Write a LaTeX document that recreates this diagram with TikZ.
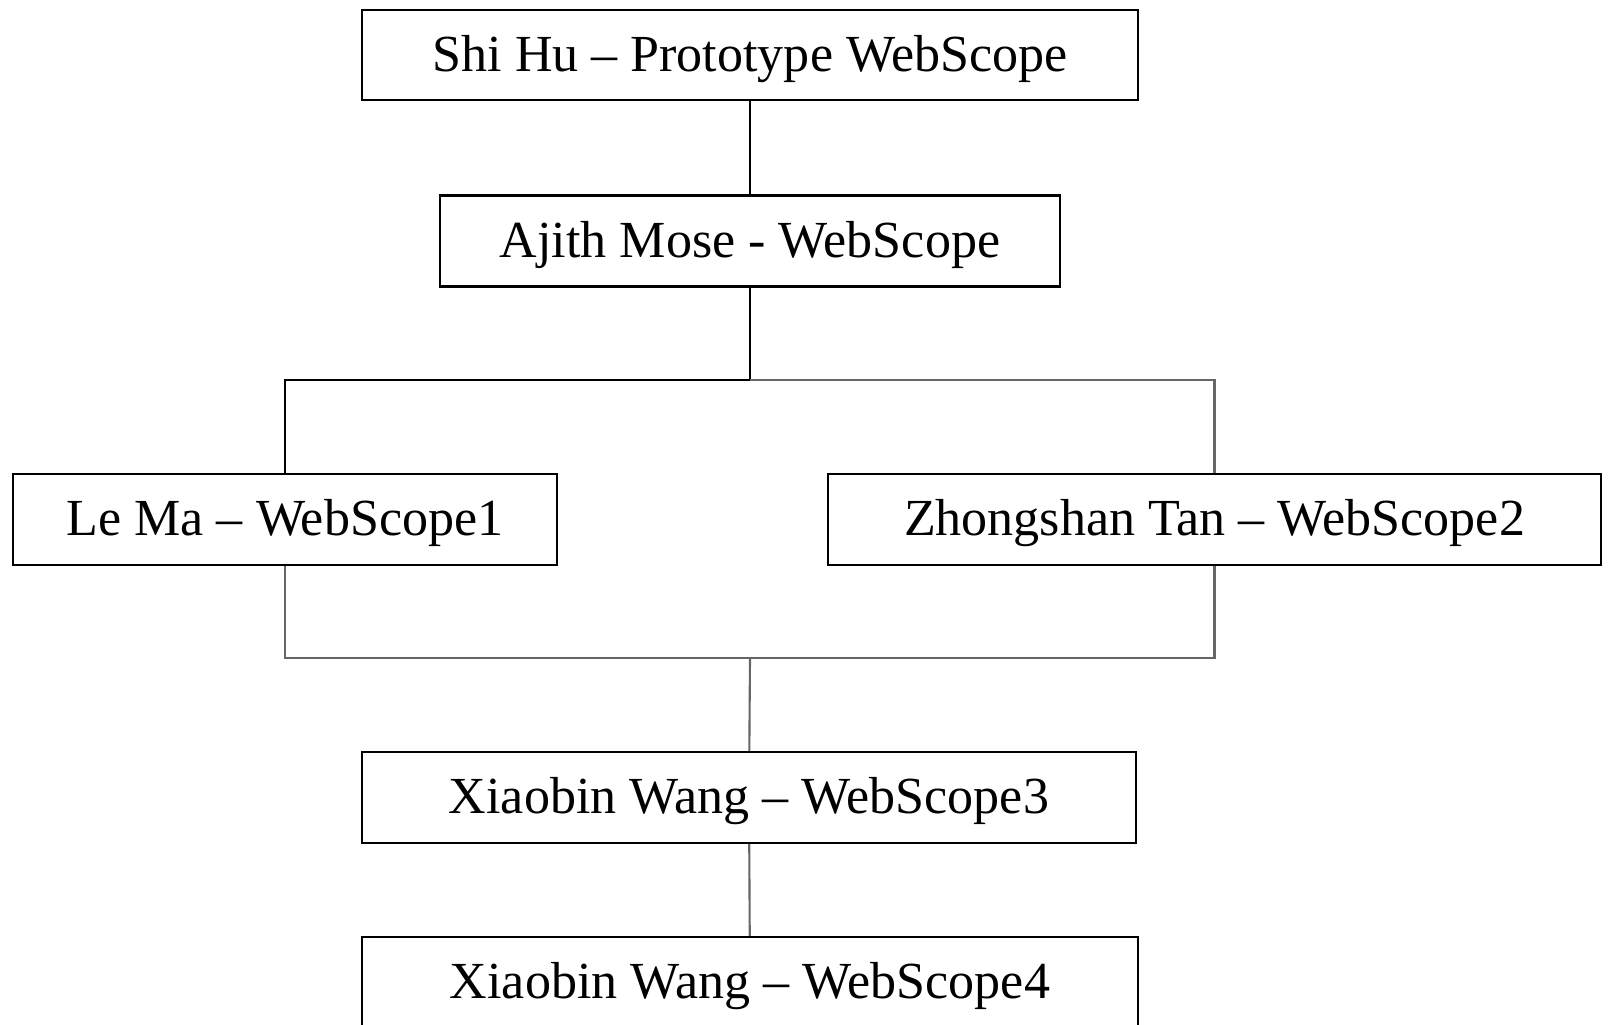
\documentclass[tikz,border=0pt]{standalone}
\usepackage{fontspec}
\setmainfont{Liberation Serif}
\usetikzlibrary{calc}

\begin{document}
\begin{tikzpicture}[x=0.01cm,y=-0.01cm,
  every node/.style={draw,line width=0.6pt,inner sep=0pt,minimum height=0.91cm,
    text height=11.5pt,text depth=2.2pt,font=\fontsize{14.8pt}{17pt}\selectfont},
  link/.style={line width=0.6pt},
  greylink/.style={line width=0.6pt,draw=black!60}]
  \useasboundingbox (0,0) rectangle (1608,1025);
  \path (750,55) node[minimum width=7.76cm,minimum height=0.9cm] (shihu) {Shi Hu -- Prototype WebScope}
  (750,241) node[minimum width=6.2cm] (ajith) {Ajith Mose - WebScope}
  (285,519.5) node[minimum width=5.44cm] (lema) {Le Ma -- WebScope1}
  (1214.5,519.5) node[minimum width=7.73cm] (zhong) {Zhongshan Tan -- WebScope2}
  (749,797.5) node[minimum width=7.73cm] (xwang3) {Xiaobin Wang -- WebScope3}
  (750,982.5) node[minimum width=7.76cm] (xwang4) {Xiaobin Wang -- WebScope4};
  \coordinate (split) at (750,380);
  \coordinate (merge) at (750,658);
  \draw[link] (shihu) -- (ajith);
  \draw[link] (ajith) -- (split) -| (lema);
  \draw[greylink] (split) -| (zhong);
  \draw[greylink] (lema) |- (merge);
  \draw[greylink] (zhong) |- (merge);
  \draw[greylink] (merge) -- (xwang3);
  \draw[greylink] (xwang3) -- (xwang4);
  \end{tikzpicture}
\end{document}
